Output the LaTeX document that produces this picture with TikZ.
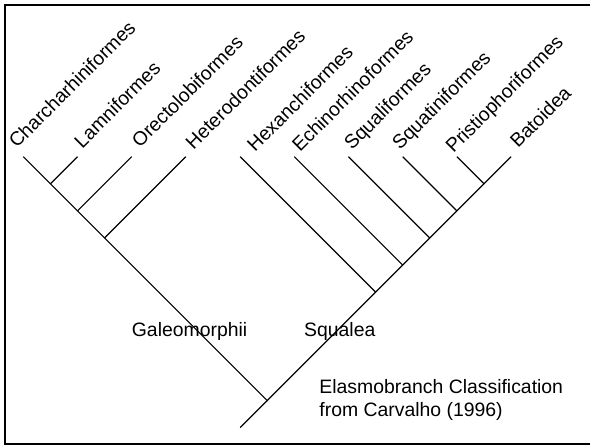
\documentclass[tikz,border=0pt]{standalone}
\usepackage{fontspec}
\setmainfont{Liberation Sans}
\begin{document}
\begin{tikzpicture}[x=1pt,y=1pt,
  branch/.style={line width=1.2pt},
  frame/.style={line width=2pt},
  taxon/.style={anchor=base west, rotate=45, inner sep=0pt, font=\fontsize{19.4}{23.4}\selectfont},
  clade/.style={anchor=base west, inner sep=0pt, font=\fontsize{19.4}{23.4}\selectfont}]
\useasboundingbox (0,0) rectangle (590,446);
\begin{scope}
\clip (0,0) rectangle (590,446);
\draw[frame] (5,1.5) rectangle (594,441);
\end{scope}
% tips
\coordinate (t0) at (23.3,289.3);
\coordinate (t1) at (77.5,289.3);
\coordinate (t2) at (131.7,289.3);
\coordinate (t3) at (185.9,289.3);
\coordinate (t4) at (240.1,289.3);
\coordinate (t5) at (294.3,289.3);
\coordinate (t6) at (348.5,289.3);
\coordinate (t7) at (402.7,289.3);
\coordinate (t8) at (456.9,289.3);
\coordinate (t9) at (511.1,289.3);
% joins
\coordinate (j1) at (50.4,262.2);
\coordinate (j2) at (77.5,235.1);
\coordinate (j3) at (104.6,208.0);
\coordinate (k8) at (484.0,262.2);
\coordinate (k7) at (456.9,235.1);
\coordinate (k6) at (429.8,208.0);
\coordinate (k5) at (402.7,180.9);
\coordinate (k4) at (375.6,153.8);
\coordinate (r) at (267.2,45.4);
\coordinate (b) at (240.2,18.4);
% branches
\draw[branch] (t0) -- (r) -- (t9);
\draw[branch] (r) -- (b);
\draw[branch] (t1) -- (j1);
\draw[branch] (t2) -- (j2);
\draw[branch] (t3) -- (j3);
\draw[branch] (t4) -- (k4);
\draw[branch] (t5) -- (k5);
\draw[branch] (t6) -- (k6);
\draw[branch] (t7) -- (k7);
\draw[branch] (t8) -- (k8);
% taxon labels
\node[taxon] (l0) at (16.8,296.9) {Charcharhiniformes};
\node[taxon] (l1) at (82.3,296.7) {Lamniformes};
\node[taxon] (l2) at (139.7,297.3) {Orectolobiformes};
\node[taxon] (l3) at (193.5,295.5) {Heterodontiformes};
\node[taxon] (l4) at (255,293) {Hexanchiformes};
\node[taxon] (l5) at (300,293) {Echinorhinoformes};
\node[taxon] (l6) at (352,295) {Squaliformes};
\node[taxon] (l7) at (400,295) {Squatiniformes};
\node[taxon] (l8) at (453.5,292) {Pristiophoriformes};
\node[taxon] (l9) at (518,297) {Batoidea};
% clade labels
\node[clade] (gal) at (131.7,109.3) {Galeomorphii};
\node[clade] (squ) at (304,109.3) {Squalea};
\node[clade, align=left] (cap) at (319.2,29.3) {Elasmobranch Classification\\from Carvalho (1996)};
\end{tikzpicture}
\end{document}
